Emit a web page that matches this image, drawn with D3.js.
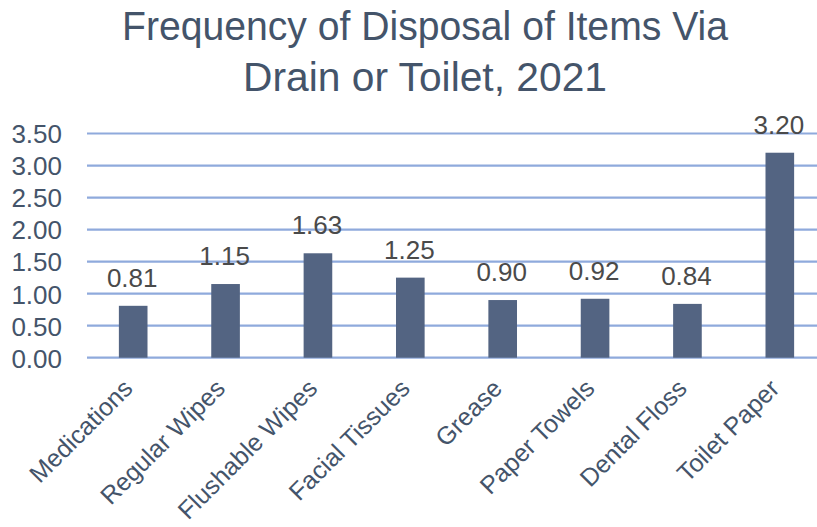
<!DOCTYPE html>
<html>
<head>
<meta charset="utf-8">
<script src="https://cdn.jsdelivr.net/npm/d3@7"></script>
<style>
  html, body { margin: 0; padding: 0; background: #fff; }
  svg { display: block; }
  text { font-family: "Liberation Sans", Arial, sans-serif; }
</style>
</head>
<body>
<svg id="chart" width="817" height="527"></svg>
<script>
const categories = ["Medications", "Regular Wipes", "Flushable Wipes", "Facial Tissues", "Grease", "Paper Towels", "Dental Floss", "Toilet Paper"];
const values = [0.81, 1.15, 1.63, 1.25, 0.90, 0.92, 0.84, 3.20];
const yTicks = [0, 0.5, 1.0, 1.5, 2.0, 2.5, 3.0, 3.5];
const titleLines = ["Frequency of Disposal of Items Via", "Drain or Toilet, 2021"];

const W = 817, H = 527;
const textColor = "#44546A";
const barColor = "#536482";
const gridColor = "#8FAADC";

const svg = d3.select("#chart");

const x = d3.scaleBand().domain(categories).range([87, 826]).paddingInner(0.69).paddingOuter(0.345);
const y = d3.scaleLinear().domain([0, 3.5]).range([357.7, 133.5]);

// gridlines
svg.append("g").selectAll("line").data(yTicks).join("line")
  .attr("x1", 87).attr("x2", W)
  .attr("y1", d => y(d)).attr("y2", d => y(d))
  .attr("stroke", gridColor).attr("stroke-width", 2.2);

// y axis labels
const yAxis = d3.axisLeft(y).tickValues(yTicks).tickFormat(d3.format(".2f")).tickSize(0).tickPadding(0);
const yg = svg.append("g").attr("transform", "translate(62,0)").call(yAxis);
yg.select(".domain").remove();
yg.selectAll("text").attr("fill", textColor).attr("font-size", 26).attr("dy", "0.36em")
  .style("font-family", "'Liberation Sans', Arial, sans-serif");

// bars
svg.append("g").selectAll("rect").data(values).join("rect")
  .attr("x", (d, i) => x(categories[i]))
  .attr("width", x.bandwidth())
  .attr("y", d => y(d))
  .attr("height", d => y(0) - y(d))
  .attr("fill", barColor);

// value labels
svg.append("g").selectAll("text").data(values).join("text")
  .attr("x", (d, i) => x(categories[i]) + x.bandwidth() / 2 - 1)
  .attr("y", d => y(d) - 19)
  .attr("text-anchor", "middle")
  .attr("font-size", 26)
  .attr("fill", "#4a4a4a")
  .text(d => d3.format(".2f")(d));

// x axis labels
const xAxis = d3.axisBottom(x).tickSize(0).tickPadding(0);
const xg = svg.append("g").attr("transform", "translate(0,372)").call(xAxis);
xg.select(".domain").remove();
xg.selectAll("text")
  .attr("fill", textColor)
  .attr("font-size", 25)
  .attr("text-anchor", "end")
  .attr("dy", 0)
  .attr("y", 0)
  .attr("transform", "translate(1,18) rotate(-45)")
  .style("font-family", "'Liberation Sans', Arial, sans-serif");

// title
const title = svg.append("g");
title.selectAll("text").data(titleLines).join("text")
  .attr("x", 425)
  .attr("y", (d, i) => 40 + i * 51)
  .attr("text-anchor", "middle")
  .attr("font-size", 40)
  .attr("fill", textColor)
  .attr("textLength", (d, i) => i === 0 ? 606 : 364)
  .attr("lengthAdjust", "spacingAndGlyphs")
  .text(d => d);
</script>
</body>
</html>
